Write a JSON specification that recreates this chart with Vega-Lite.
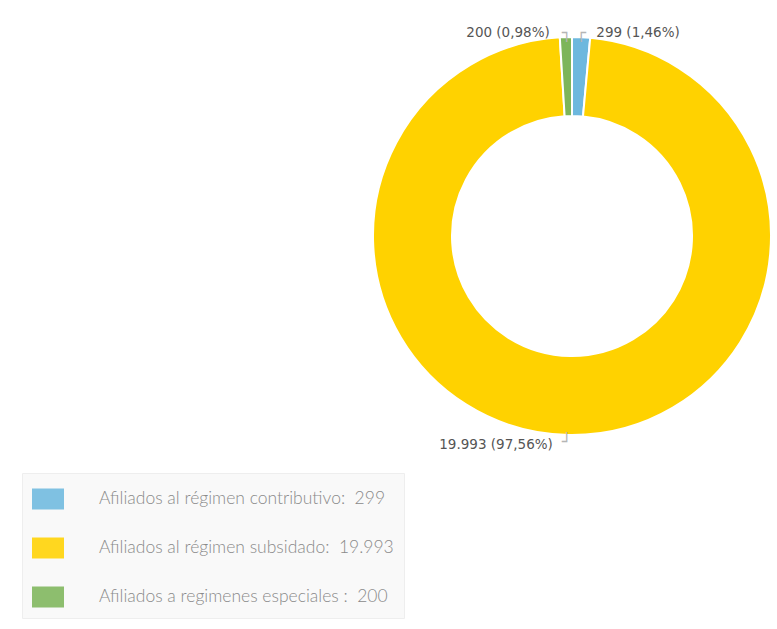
{
  "$schema": "https://vega.github.io/schema/vega-lite/v6.json",
  "width": 398,
  "height": 398,
  "autosize": {"type": "none"},
  "padding": {"left": 373, "top": 37, "right": 6, "bottom": 194},
  "background": "#ffffff",
  "config": {"view": {"stroke": null}},
  "data": {
    "values": [
      {"orden": 1, "categoria": "Afiliados al régimen contributivo:\u00a0\u00a0299", "valor": 299, "etiqueta": "299 (1,46%)"},
      {"orden": 2, "categoria": "Afiliados al régimen subsidado:\u00a0\u00a019.993", "valor": 19993, "etiqueta": "19.993 (97,56%)"},
      {"orden": 3, "categoria": "Afiliados a regimenes especiales :\u00a0\u00a0200", "valor": 200, "etiqueta": "200 (0,98%)"}
    ]
  },
  "encoding": {
    "theta": {"field": "valor", "type": "quantitative", "stack": true},
    "order": {"field": "orden", "type": "quantitative"}
  },
  "layer": [
    {
      "mark": {"type": "arc", "innerRadius": 120, "outerRadius": 199, "stroke": "#ffffff", "strokeWidth": 2},
      "encoding": {
        "color": {
          "field": "categoria",
          "type": "nominal",
          "scale": {
            "domain": ["Afiliados al régimen contributivo:\u00a0\u00a0299", "Afiliados al régimen subsidado:\u00a0\u00a019.993", "Afiliados a regimenes especiales :\u00a0\u00a0200"],
            "range": ["#6db8de", "#ffd200", "#7db55a"]
          },
          "legend": {
            "orient": "none",
            "legendX": -351,
            "legendY": 436,
            "title": null,
            "symbolType": "M-1,-0.656H1V0.656H-1Z",
            "symbolSize": 1024,
            "symbolStrokeWidth": 0,
            "symbolOpacity": 0.88,
            "labelFont": "Lato",
            "labelFontWeight": 300,
            "labelFontSize": 17.5,
            "labelColor": "#8a8a8a",
            "labelOffset": 35,
            "labelLimit": 0,
            "rowPadding": 22,
            "padding": 10,
            "fillColor": "#f9f9f9",
            "strokeColor": "#eeeeee"
          }
        }
      }
    },
    {
      "mark": {"type": "text", "radius": 203, "align": "left", "baseline": "middle", "dx": 15, "font": "DejaVu Sans", "fontSize": 13.5, "color": "#555555"},
      "encoding": {
        "detail": {"field": "categoria"},
        "text": {"condition": {"test": "datum.orden == 1", "field": "etiqueta"}, "value": ""}
      }
    },
    {
      "mark": {"type": "text", "radius": 203, "align": "right", "baseline": "middle", "dx": -16, "font": "DejaVu Sans", "fontSize": 13.5, "color": "#555555"},
      "encoding": {
        "detail": {"field": "categoria"},
        "text": {"condition": {"test": "datum.orden == 3", "field": "etiqueta"}, "value": ""}
      }
    },
    {
      "mark": {"type": "text", "radius": 209, "align": "right", "baseline": "middle", "dx": -16, "font": "DejaVu Sans", "fontSize": 13.5, "color": "#555555"},
      "encoding": {
        "detail": {"field": "categoria"},
        "text": {"condition": {"test": "datum.orden == 2", "field": "etiqueta"}, "value": ""}
      }
    },
    {
      "mark": {"type": "text", "radius": 203, "align": "center", "baseline": "middle", "dx": 0, "dy": 0, "font": "DejaVu Sans", "fontSize": 16, "color": "#b5b5b5"},
      "encoding": {
        "detail": {"field": "categoria"},
        "text": {"condition": {"test": "datum.orden == 1", "value": "┌"}, "value": ""}
      }
    },
    {
      "mark": {"type": "text", "radius": 203, "align": "center", "baseline": "middle", "dx": 1, "dy": 0, "font": "DejaVu Sans", "fontSize": 16, "color": "#b5b5b5"},
      "encoding": {
        "detail": {"field": "categoria"},
        "text": {"condition": {"test": "datum.orden == 3", "value": "┐"}, "value": ""}
      }
    },
    {
      "mark": {"type": "text", "radius": 209, "align": "center", "baseline": "middle", "dx": -2, "dy": -3, "font": "DejaVu Sans", "fontSize": 16, "color": "#b5b5b5"},
      "encoding": {
        "detail": {"field": "categoria"},
        "text": {"condition": {"test": "datum.orden == 2", "value": "┘"}, "value": ""}
      }
    }
  ]
}
